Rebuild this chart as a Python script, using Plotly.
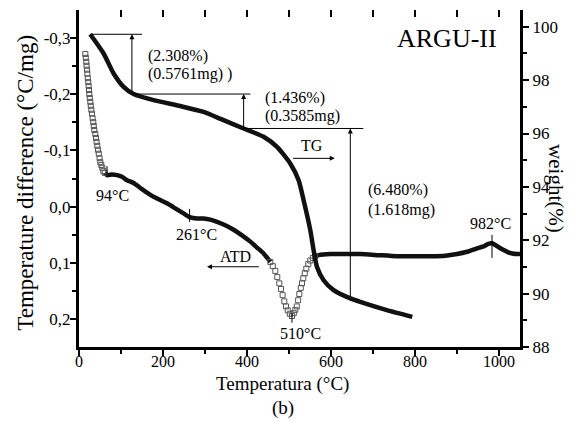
import plotly.graph_objects as go

# ---------------- data ----------------
# TG curve: temperature (°C) vs weight (%)  -> right axis
tg_temp = [26.7, 58.6, 82.4, 106.2, 130, 177.6, 241, 296.7, 344.3, 392, 439.5, 471.4,
           503, 522.9, 534.8, 550.7, 558.6, 566.7, 582.4, 606.2, 646, 669.8, 733, 793.6]
tg_weight = [99.72, 99.00, 98.25, 97.75, 97.48, 97.25, 97.03, 96.81, 96.50, 96.19, 95.88, 95.50,
             94.88, 94.25, 93.50, 92.38, 91.63, 91.00, 90.50, 90.13, 89.82, 89.69, 89.38, 89.13]

# ATD curve: temperature (°C) vs temperature difference (°C/mg) -> left axis (reversed)
atd_sq1_temp = [15.0, 16.2, 17.4, 18.1, 19.0, 19.8, 21.0, 22.1, 22.9, 23.8, 24.5, 25.7, 26.9, 28.1,
                29.3, 31.0, 32.4, 34.0, 35.2, 36.4, 38.8, 40.5, 41.9, 43.6, 45.2, 47.1, 49.0, 50.7,
                53.1, 55.5, 57.9, 61.4]
atd_sq1_dt = [-0.271, -0.264, -0.257, -0.250, -0.243, -0.236, -0.228, -0.221, -0.214, -0.207,
              -0.200, -0.193, -0.186, -0.179, -0.172, -0.165, -0.157, -0.150, -0.143, -0.136,
              -0.129, -0.122, -0.115, -0.108, -0.101, -0.094, -0.086, -0.079, -0.074, -0.069,
              -0.063, -0.060]

atd_l1_temp = [61.4, 66.7, 78.6, 90.5, 102.4, 114.3, 130, 150, 169.8, 189.5, 209.5, 229.3, 249,
               265, 281, 296.7, 312.6, 328.6, 348.3, 368.1, 388.1, 407.9, 424.5, 439.5, 448.3, 455.5]
atd_l1_dt = [-0.060, -0.056, -0.057, -0.056, -0.053, -0.047, -0.042, -0.031, -0.021, -0.013,
             -0.006, 0.003, 0.012, 0.019, 0.021, 0.021, 0.023, 0.027, 0.033, 0.041, 0.051, 0.062,
             0.073, 0.083, 0.091, 0.098]

atd_sq2_temp = [455.5, 461.4, 467.4, 472.1, 476.9, 481.0, 484.8, 488.8, 492.9, 497.1, 501.9, 507.1,
                511.4, 515.0, 518.6, 521.7, 524.5, 528.1, 531.0, 534.0, 537.6, 541.2, 546.0, 550.7,
                556.7, 562.6]
atd_sq2_dt = [0.098, 0.1055, 0.114, 0.125, 0.136, 0.146, 0.157, 0.168, 0.177, 0.184, 0.190, 0.194,
              0.189, 0.183, 0.177, 0.166, 0.155, 0.144, 0.136, 0.127, 0.118, 0.110, 0.102, 0.0956,
              0.091, 0.088]

atd_l2_temp = [562.6, 570.5, 598.3, 634, 669.8, 712.6, 757.1, 796, 836.4, 872, 900, 924.5, 947.6,
               965, 974.5, 983.3, 991.2, 1000.7, 1011, 1022, 1031.7, 1042.9, 1050]
atd_l2_dt = [0.088, 0.086, 0.084, 0.084, 0.084, 0.086, 0.088, 0.088, 0.088, 0.087, 0.084, 0.080,
             0.074, 0.070, 0.066, 0.065, 0.068, 0.0725, 0.077, 0.081, 0.083, 0.084, 0.084]

# axis ticks
left_tickvals = [-0.3, -0.2, -0.1, 0.0, 0.1, 0.2]
left_ticktext = ["-0,3", "-0,2", "-0,1", "0,0", "0,1", "0,2"]

# step annotations (weight levels, %)
step_levels = [99.72, 97.48, 96.19]
step_temps = [26.7, 130, 392]

FONT = "Liberation Serif, Times New Roman, serif"
fig = go.Figure()

# TG drawn on the top overlay x axis (same range) so that its inner top ticks render
fig.add_trace(go.Scatter(x=tg_temp, y=tg_weight, xaxis="x3", yaxis="y2", mode="lines",
                         line=dict(color="#111", width=4.5, shape="spline", smoothing=0.6),
                         showlegend=False))
fig.add_trace(go.Scatter(x=atd_l1_temp, y=atd_l1_dt, mode="lines",
                         line=dict(color="#111", width=4.5, shape="spline", smoothing=0.6),
                         showlegend=False))
fig.add_trace(go.Scatter(x=atd_l2_temp, y=atd_l2_dt, mode="lines",
                         line=dict(color="#111", width=4.5, shape="spline", smoothing=0.5),
                         showlegend=False))
sq = dict(symbol="square-open", size=5, color="#555", line=dict(width=1))
fig.add_trace(go.Scatter(x=atd_sq1_temp, y=atd_sq1_dt, mode="markers", marker=sq, showlegend=False))
fig.add_trace(go.Scatter(x=atd_sq2_temp, y=atd_sq2_dt, mode="markers", marker=sq, showlegend=False))

thin = dict(color="black", width=1)
# horizontal step lines
fig.add_shape(type="line", xref="x", yref="y2", x0=step_temps[0], x1=150, y0=step_levels[0], y1=step_levels[0], line=thin)
fig.add_shape(type="line", xref="x", yref="y2", x0=step_temps[1], x1=408, y0=step_levels[1], y1=step_levels[1], line=thin)
fig.add_shape(type="line", xref="x", yref="y2", x0=step_temps[2], x1=677, y0=step_levels[2], y1=step_levels[2], line=thin)
# peak marker ticks on ATD
for xv, y0, y1 in [(66.7, -0.072, -0.054), (263.3, 0.004, 0.027), (507, 0.190, 0.206), (983.3, 0.050, 0.091)]:
    fig.add_shape(type="line", xref="x", yref="y", x0=xv, x1=xv, y0=y0, y1=y1, line=thin)

def arrow(x, y, ax, ay, yref):
    fig.add_annotation(x=x, y=y, ax=ax, ay=ay, xref="x", yref=yref, axref="x", ayref=yref,
                       text="", showarrow=True, arrowhead=2, arrowsize=1, arrowwidth=1,
                       arrowcolor="black", standoff=0, startstandoff=0)

arrow(126, step_levels[0], 126, step_levels[1], "y2")
arrow(392, step_levels[1], 392, step_levels[2], "y2")
arrow(646, step_levels[2], 646, 89.85, "y2")
arrow(609, 95.07, 506, 95.07, "y2")
arrow(304.8, 0.1066, 431.7, 0.1066, "y")

def label(x, y, text, yref, xanchor="center", size=16):
    fig.add_annotation(x=x, y=y, xref="x", yref=yref, text=text, showarrow=False,
                       xanchor=xanchor, yanchor="middle", font=dict(family=FONT, size=size, color="black"))

label(160.2, 98.90, "(2.308%)", "y2", "left")
label(160.2, 98.23, "(0.5761mg) )", "y2", "left")
label(438.8, 97.35, "(1.436%)", "y2", "left")
label(438.8, 96.66, "(0.3585mg)", "y2", "left")
label(554.8, 95.56, "TG", "y2")
label(684, 93.88, "(6.480%)", "y2", "left")
label(684, 93.15, "(1.618mg)", "y2", "left")
label(875.5, 99.565, "ARGU-II", "y2", size=26)
label(80.5, -0.0207, "94°C", "y")
label(279.3, 0.0485, "261°C", "y")
label(372, 0.0888, "ATD", "y")
label(528, 0.2243, "510°C", "y")
label(979, 0.029, "982°C", "y")

# axis titles as annotations
fig.add_annotation(x=-0.122, y=0.488, xref="paper", yref="paper", text="Temperature difference (°C/mg)",
                   textangle=-90, showarrow=False, xanchor="center", yanchor="middle",
                   font=dict(family=FONT, size=23, color="black"))
fig.add_annotation(x=1.082, y=0.471, xref="paper", yref="paper", text="weight(%)",
                   textangle=90, showarrow=False, xanchor="center", yanchor="middle",
                   font=dict(family=FONT, size=21, color="black"))
fig.add_annotation(x=0.4615, y=-0.110, xref="paper", yref="paper", text="Temperatura (°C)",
                   showarrow=False, xanchor="center", yanchor="middle",
                   font=dict(family=FONT, size=19, color="black"))
fig.add_annotation(x=0.4615, y=-0.181, xref="paper", yref="paper", text="(b)",
                   showarrow=False, xanchor="center", yanchor="middle",
                   font=dict(family=FONT, size=19, color="black"))

axline = dict(showline=True, linewidth=3, linecolor="black", showgrid=False, zeroline=False,
              ticks="outside", tickwidth=2, ticklen=6, tickcolor="black",
              tickfont=dict(family=FONT, size=17, color="black"))

# the page body has an 8px default margin, so the figure is 8px smaller and shifted
fig.update_layout(
    width=567, height=414,
    margin=dict(l=71, r=55, t=2, b=75),
    plot_bgcolor="white", paper_bgcolor="white",
    font=dict(family=FONT, color="black"),
    showlegend=False,
    xaxis=dict(range=[0, 1050], tickmode="linear", tick0=0, dtick=200, ticklabelstandoff=-8,
               minor=dict(ticks="outside", ticklen=4, tickwidth=2, dtick=100, tick0=0, tickcolor="black"),
               **{**axline, "tickfont": dict(family=FONT, size=16, color="black")}),
    xaxis3=dict(range=[0, 1050], overlaying="x", side="top", anchor="y", showline=False,
                showgrid=False, zeroline=False, showticklabels=False, ticks="inside",
                tickmode="linear", tick0=0, dtick=100, ticklen=7, tickwidth=2, tickcolor="black"),
    yaxis=dict(range=[0.249, -0.349], tickmode="array", tickvals=left_tickvals, ticktext=left_ticktext,
               ticklabelstandoff=-4,
               minor=dict(ticks="outside", ticklen=4, tickwidth=2, dtick=0.05, tick0=0, tickcolor="black"),
               **axline),
    yaxis2=dict(range=[88, 100.63], overlaying="y", side="right", anchor="x",
                tickmode="linear", tick0=88, dtick=2,
                minor=dict(ticks="outside", ticklen=4, tickwidth=2, dtick=1, tick0=88, tickcolor="black"),
                **axline),
)

fig.write_html("out.html")
